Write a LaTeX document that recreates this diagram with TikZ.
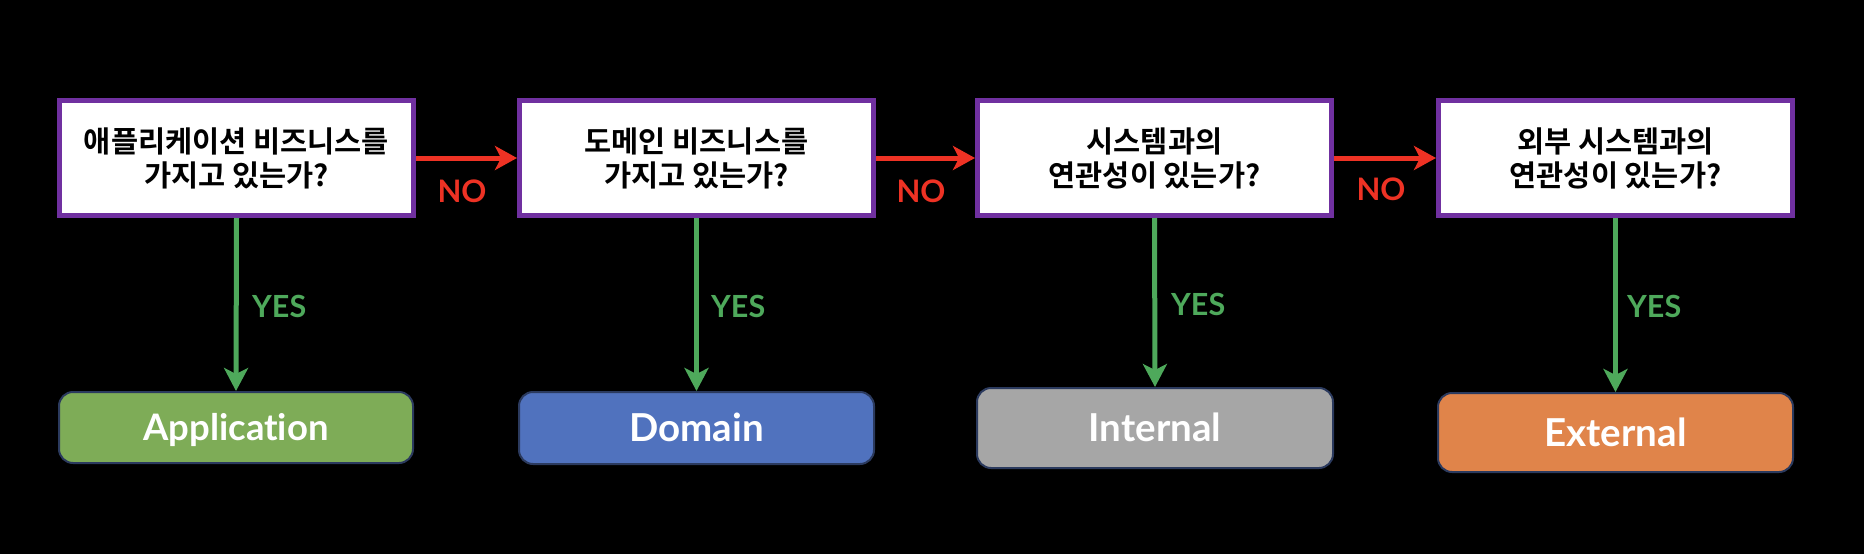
\documentclass[tikz,border=0pt]{standalone}
\usepackage{fontspec}
\newfontfamily\kofont{Noto Sans CJK KR}[BoldFont={Noto Sans CJK KR Bold}]
\newfontfamily\enfont{Lato}[Ligatures=NoCommon]
\usetikzlibrary{arrows.meta}
\definecolor{qpurple}{HTML}{7030A0}
\definecolor{qred}{HTML}{EE3224}
\definecolor{qgreen}{HTML}{4EA95B}
\definecolor{appg}{HTML}{7EAC57}
\definecolor{domb}{HTML}{5072BE}
\definecolor{intg}{HTML}{A6A6A6}
\definecolor{extor}{HTML}{E0844A}
\definecolor{edgenavy}{HTML}{2B3A5E}
\begin{document}
\begin{tikzpicture}[x=1pt,y=-1pt,
  qbox/.style={draw=qpurple, line width=5pt, fill=white, minimum width=354pt,
    minimum height=115pt, inner sep=0pt, align=center,
    font=\kofont\bfseries\fontsize{29.5pt}{34pt}\selectfont},
  rbox/.style={draw=edgenavy, line width=2pt, rounded corners=14pt, inner sep=0pt,
    text=white, font=\enfont\bfseries\fontsize{38.5pt}{40pt}\selectfont,
    text height=27pt, text depth=0pt},
  noarrow/.style={draw=qred, line width=5pt, -{Stealth[length=22pt,width=24pt,inset=6pt]}},
  yesarrow/.style={draw=qgreen, line width=5pt, -{Stealth[length=23pt,width=24pt,inset=6pt]}},
  nolab/.style={text=qred, font=\enfont\bfseries\fontsize{31pt}{31pt}\selectfont,
    inner sep=0pt, anchor=base},
  yeslab/.style={text=qgreen, font=\enfont\bfseries\fontsize{30.5pt}{31pt}\selectfont,
    inner sep=0pt, anchor=base west}
]
\fill[black] (0,0) rectangle (1864,554);
\useasboundingbox (0,0) rectangle (1864,554);

\node[qbox] (q1) at (236.5,158) {애플리케이션 비즈니스를\\가지고 있는가?};
\node[qbox] (q2) at (696.5,158) {도메인 비즈니스를\\가지고 있는가?};
\node[qbox] (q3) at (1154.5,158) {시스템과의\\연관성이 있는가?};
\node[qbox] (q4) at (1615.5,158) {외부 시스템과의\\연관성이 있는가?};

\node[rbox, fill=appg, minimum width=354pt, minimum height=71pt,
  font=\enfont\bfseries\fontsize{36.5pt}{40pt}\selectfont, text height=26pt] (a) at (236,427.5) {Application};
\node[rbox, fill=domb, minimum width=355pt, minimum height=72pt] (d) at (696.5,428) {Domain};
\node[rbox, fill=intg, minimum width=356pt, minimum height=80pt] (i) at (1155,428) {Internal};
\node[rbox, fill=extor, minimum width=355pt, minimum height=79pt] (e) at (1615.5,432.5) {External};

\draw[noarrow] (q1.east) -- (q2.west);
\draw[noarrow] (q2.east) -- (q3.west);
\draw[noarrow] (q3.east) -- (q4.west);

\draw[yesarrow] (q1.south) -- (a.north);
\draw[yesarrow] (q2.south) -- (d.north);
\draw[yesarrow] (q3.south) -- (i.north);
\draw[yesarrow] (q4.south) -- (e.north);

\node[nolab] (n1) at (462,202) {NO};
\node[nolab] (n2) at (921,202) {NO};
\node[nolab] (n3) at (1381,200) {NO};

\node[yeslab] (y1) at (252,317) {YES};
\node[yeslab] (y2) at (711,317) {YES};
\node[yeslab] (y3) at (1171,315) {YES};
\node[yeslab] (y4) at (1627,317) {YES};
\end{tikzpicture}
\end{document}
